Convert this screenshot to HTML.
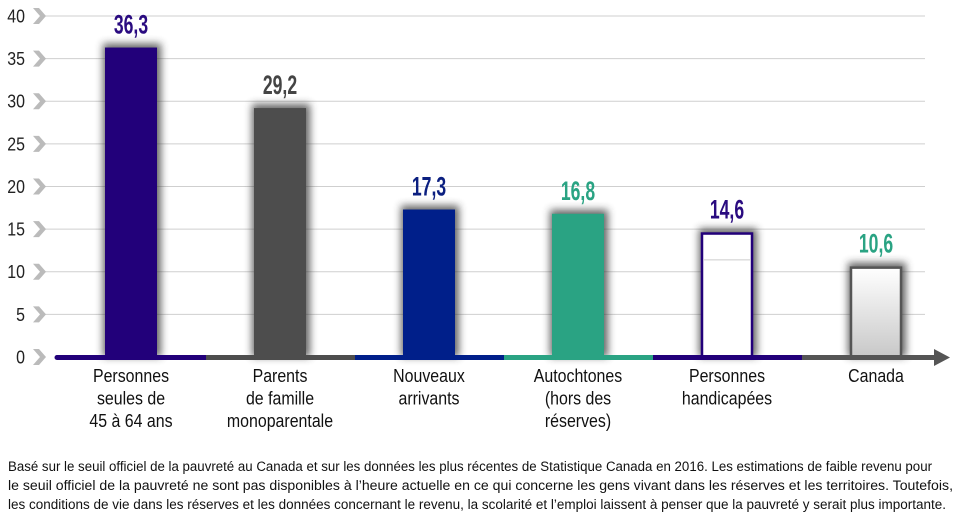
<!DOCTYPE html>
<html><head><meta charset="utf-8"><style>
body{margin:0;background:#fff;width:955px;height:518px;overflow:hidden;font-family:"Liberation Sans",sans-serif}
svg{display:block;position:absolute;left:0;top:0}
</style></head><body>
<svg id="chart" width="955" height="518" xmlns="http://www.w3.org/2000/svg">
<defs>
<filter id="sh" x="-50%" y="-20%" width="200%" height="140%"><feGaussianBlur stdDeviation="4"/></filter>
<linearGradient id="cg" x1="0" y1="0" x2="0" y2="1"><stop offset="0" stop-color="#fff"/><stop offset="1" stop-color="#c8c8c8"/></linearGradient>
</defs>
<g id="grid"></g><g id="bars"></g><g id="labels"></g>
<g font-size="13.5" fill="#111" font-family="Liberation Sans, sans-serif">
<text x="8" y="471" textLength="924" lengthAdjust="spacingAndGlyphs">Basé sur le seuil officiel de la pauvreté au Canada et sur les données les plus récentes de Statistique Canada en 2016. Les estimations de faible revenu pour</text>
<text x="8" y="490" textLength="945" lengthAdjust="spacingAndGlyphs">le seuil officiel de la pauvreté ne sont pas disponibles à l’heure actuelle en ce qui concerne les gens vivant dans les réserves et les territoires. Toutefois,</text>
<text x="8" y="509" textLength="938" lengthAdjust="spacingAndGlyphs">les conditions de vie dans les réserves et les données concernant le revenu, la scolarité et l’emploi laissent à penser que la pauvreté y serait plus importante.</text>
</g>
</svg>
<script>
const categories=[["Personnes","seules de","45 à 64 ans"],["Parents","de famille","monoparentale"],["Nouveaux","arrivants"],["Autochtones","(hors des","réserves)"],["Personnes","handicapées"],["Canada"]];
const values=[36.3,29.2,17.3,16.8,14.6,10.6];
const valueLabels=["36,3","29,2","17,3","16,8","14,6","10,6"];
const ticks=[0,5,10,15,20,25,30,35,40];
const colors=["#22007a","#4d4d4d","#001f8a","#2aa383","#22007a","#555"];
const fills=["#22007a","#4d4d4d","#001f8a","#2aa383","#fff","url(#cg)"];
const labelColors=["#2a0b80","#444","#0b1f80","#2aa383","#2a0b80","#2aa383"];
const NS="http://www.w3.org/2000/svg";
const y=v=>357-v*8.525;
const cx=i=>131+i*149;
function mk(t,a,p){const e=document.createElementNS(NS,t);for(const k in a)e.setAttribute(k,a[k]);p.appendChild(e);return e;}
const grid=document.getElementById('grid'),bars=document.getElementById('bars'),lab=document.getElementById('labels');
ticks.forEach(t=>{
 if(t>0){const l=mk('line',{x1:45,x2:925,y1:y(t),y2:y(t),stroke:'#cfcfcf','stroke-width':1},grid);
 
 }
 const yy=y(t);
 const c=mk('polygon',{points:`${33},${yy-8} ${39},${yy-8} ${46},${yy} ${39},${yy+8} ${33},${yy+8} ${40},${yy}`,fill:'#bbb'},grid);
 
 
 const tx=mk('text',{x:25,y:yy+6.5,'text-anchor':'end','font-size':18.5,fill:'#222',transform:`translate(25 0) scale(0.86 1) translate(-25 0)`},grid);
 tx.textContent=t;
 
 
});
values.forEach((v,i)=>{
 const x=cx(i)-26,top=y(v);
 const s=mk('rect',{x:x-2,y:top-4,width:58,height:357-top+4,fill:'#333',opacity:0.75,filter:'url(#sh)'},bars);
 
 
 const outline=i>=4;
 const r=mk('rect',{x:outline?x+1:x,y:outline?top+1:top,width:outline?50:52,height:outline?356-top:357-top,fill:fills[i],stroke:outline?colors[i]:'none','stroke-width':outline?2.5:0},bars);
 
 
 if(i===4){const g=mk('line',{x1:x+2,x2:x+50,y1:y(11.4),y2:y(11.4),stroke:'#ccc'},bars);
 
 }
 const ly=top-14;
 const vt=mk('text',{x:cx(i),y:ly,'text-anchor':'middle','font-size':22,'font-weight':'bold',fill:labelColors[i],transform:`translate(${cx(i)} ${ly}) scale(0.8 1.22) translate(${-cx(i)} ${-ly})`},lab);
 vt.textContent=valueLabels[i];
 
 
 const seg=mk('line',{x1:57+i*149,x2:i===5?935:206+i*149,y1:357.5,y2:357.5,stroke:colors[i],'stroke-width':5,'stroke-linecap':i===0?'round':'butt'},lab);
 
 
 categories[i].forEach((ln,j)=>{
  const ty=382+j*22.5;
  const ct=mk('text',{x:cx(i),y:ty,'text-anchor':'middle','font-size':18.5,fill:'#111',transform:`translate(${cx(i)} 0) scale(0.86 1) translate(${-cx(i)} 0)`},lab);
  ct.textContent=ln;
  
  
 });
});
const ar=mk('path',{d:'M934 349 L950 357.5 L934 366 Z',fill:'#555'},lab);


</script>
</body></html>
